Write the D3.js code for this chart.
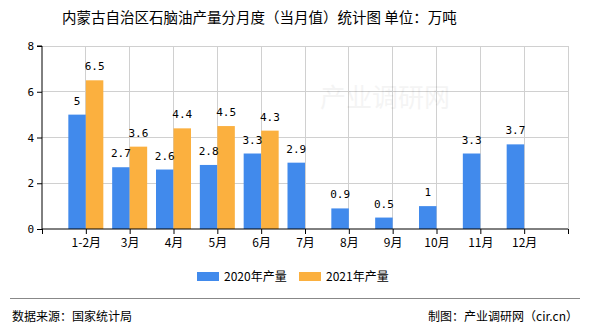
<!DOCTYPE html>
<html><head><meta charset="utf-8">
<script src="https://cdn.jsdelivr.net/npm/d3@7"></script>
<style>body{margin:0;background:#fff}svg{display:block}</style>
</head><body>
<svg id="c" width="590" height="330"></svg>
<script>
const categories = ["1-2月","3月","4月","5月","6月","7月","8月","9月","10月","11月","12月"];
const series2020 = [5, 2.7, 2.6, 2.8, 3.3, 2.9, 0.9, 0.5, 1, 3.3, 3.7];
const series2021 = [6.5, 3.6, 4.4, 4.5, 4.3, null, null, null, null, null, null];
const seriesNames = ["2020年产量", "2021年产量"];
const colors = ["#418AEC", "#FBB03F"];
const yTicks = [0, 2, 4, 6, 8];

const svg = d3.select("#c");
const L = 42, R = 568, T = 46, B = 229;
const x = d3.scaleLinear().domain([0, categories.length + 1]).range([L, R]);
const y = d3.scaleLinear().domain([0, 8]).range([B, T]);
const cx = i => x(i + 1);
const bw = 17.5;
const mono = "'DejaVu Sans Mono', monospace";
const cjk = "'Noto Sans CJK SC', sans-serif";

// grid
const g = svg.append("g");
g.selectAll("line.h").data(yTicks.filter(d => d > 0)).join("line")
  .attr("x1", L).attr("x2", R).attr("y1", d => y(d)).attr("y2", d => y(d))
  .attr("stroke", "#d0d0d0").attr("stroke-width", 1).attr("shape-rendering", "crispEdges");
g.selectAll("line.v").data(d3.range(1, categories.length + 2)).join("line")
  .attr("x1", d => x(d)).attr("x2", d => x(d)).attr("y1", T).attr("y2", B)
  .attr("stroke", "#d0d0d0").attr("stroke-width", 1).attr("shape-rendering", "crispEdges");

// watermark
svg.append("text").attr("x", 385).attr("y", 107).attr("text-anchor", "middle")
  .attr("font-family", cjk).attr("font-size", 26).attr("fill", "#000").attr("opacity", 0.04)
  .text("产业调研网");

// bars
const sg = svg.append("g");
sg.selectAll("rect.a").data(series2020).join("rect")
  .attr("x", (d, i) => cx(i) - bw).attr("width", bw)
  .attr("y", d => y(d)).attr("height", d => B - y(d)).attr("fill", colors[0]);
sg.selectAll("rect.b").data(series2021.map((v, i) => ({v, i})).filter(d => d.v != null)).join("rect")
  .attr("x", d => cx(d.i)).attr("width", bw)
  .attr("y", d => y(d.v)).attr("height", d => B - y(d.v)).attr("fill", colors[1]);

// value labels
sg.selectAll("text.a").data(series2020).join("text")
  .attr("x", (d, i) => cx(i) - bw / 2).attr("y", d => y(d) - 10)
  .attr("text-anchor", "middle").attr("font-family", mono).attr("font-size", 11).attr("fill", "#000")
  .text(d => d);
sg.selectAll("text.b").data(series2021.map((v, i) => ({v, i})).filter(d => d.v != null)).join("text")
  .attr("x", d => cx(d.i) + bw / 2).attr("y", d => y(d.v) - 10)
  .attr("text-anchor", "middle").attr("font-family", mono).attr("font-size", 11).attr("fill", "#000")
  .text(d => d.v);

// axes
const ya = d3.axisLeft(y).tickValues(yTicks).tickSize(5).tickPadding(3).tickFormat(d3.format("d"));
const yg = svg.append("g").attr("transform", `translate(${L},0)`).call(ya);
yg.select(".domain").attr("stroke", "#000").attr("d", `M-5,${T}H0V${B}`);
yg.selectAll("text").attr("font-family", mono).attr("font-size", 11).attr("fill", "#000");

const xa = d3.axisBottom(x).tickValues(d3.range(0, categories.length + 2)).tickSize(5).tickPadding(4)
  .tickFormat(d => (d >= 1 && d <= categories.length) ? categories[d - 1] : "");
const xg = svg.append("g").attr("transform", `translate(0,${B})`).call(xa);
xg.select(".domain").attr("stroke", "#000").attr("d", `M${L},0H${R}`);
xg.selectAll("line").attr("stroke", "#000");
xg.selectAll("text").attr("font-family", cjk).attr("font-size", 12).attr("fill", "#000");

// title
svg.append("text").attr("x", 62).attr("y", 23).attr("font-family", cjk).attr("font-size", 14.5)
  .attr("fill", "#000").text("内蒙古自治区石脑油产量分月度（当月值）统计图 单位：万吨");

// legend
const lg = svg.append("g");
const lx = [197, 299];
seriesNames.forEach((n, i) => {
  lg.append("rect").attr("x", lx[i]).attr("y", 272).attr("width", 22).attr("height", 9).attr("fill", colors[i]);
  lg.append("text").attr("x", lx[i] + 27).attr("y", 281).attr("font-family", cjk).attr("font-size", 12)
    .attr("fill", "#000").text(n);
});

// footer
svg.append("line").attr("x1", 10).attr("x2", 580).attr("y1", 298.5).attr("y2", 298.5)
  .attr("stroke", "#888").attr("stroke-width", 1);
svg.append("text").attr("x", 12).attr("y", 321).attr("font-family", cjk).attr("font-size", 12)
  .attr("fill", "#000").text("数据来源：国家统计局");
svg.append("text").attr("x", 578).attr("y", 321).attr("text-anchor", "end").attr("font-family", cjk)
  .attr("font-size", 12).attr("fill", "#000").text("制图：产业调研网（cir.cn）");
</script>
</body></html>
